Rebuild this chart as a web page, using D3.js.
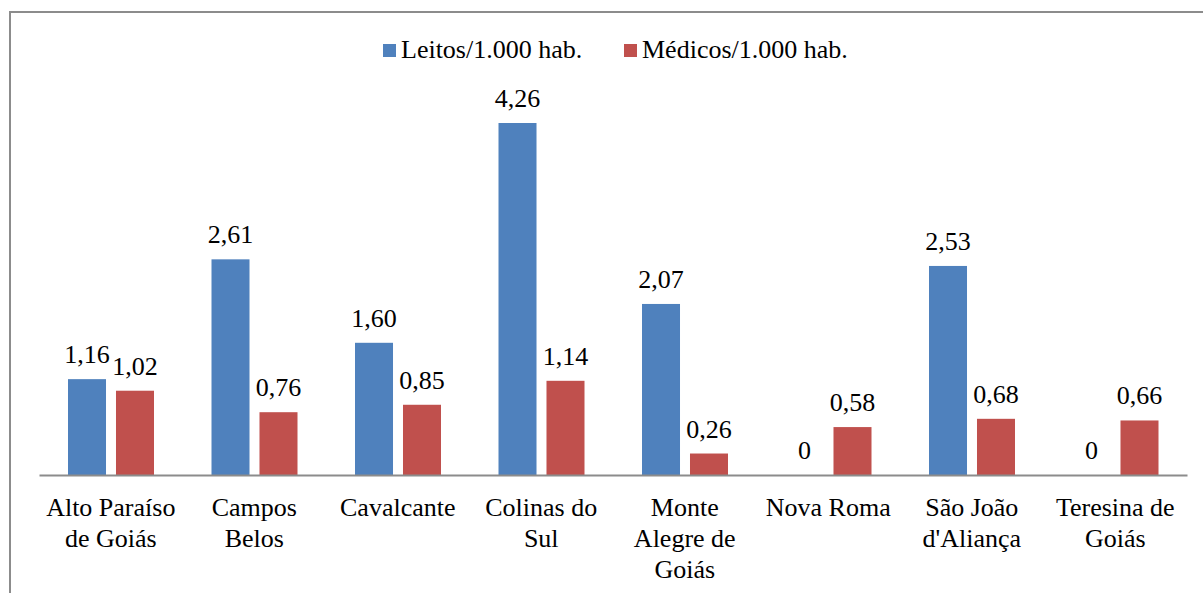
<!DOCTYPE html>
<html>
<head>
<meta charset="utf-8">
<script src="https://cdn.jsdelivr.net/npm/d3@7"></script>
<style>
  body { margin: 0; background: #fff; }
</style>
</head>
<body>
<div id="chart"></div>
<script>
const categories = ["Alto Paraíso\nde Goiás", "Campos\nBelos", "Cavalcante", "Colinas do\nSul",
  "Monte\nAlegre de\nGoiás", "Nova Roma", "São João\nd'Aliança", "Teresina de\nGoiás"];
const leitos = [1.16, 2.61, 1.60, 4.26, 2.07, 0, 2.53, 0];
const medicos = [1.02, 0.76, 0.85, 1.14, 0.26, 0.58, 0.68, 0.66];
const seriesNames = ["Leitos/1.000 hab.", "Médicos/1.000 hab."];
const colors = ["#4F81BD", "#C0504D"];

const width = 1203, height = 593;
const margin = { top: 123, right: 16, bottom: 118, left: 39 };
const baseY = height - margin.bottom;
const serif = '"Liberation Serif"';
const fontSize = "26px";

const svg = d3.select("#chart").append("svg")
  .attr("width", width).attr("height", height)
  .style("font-family", serif);

// outer frame (right/bottom edges fall outside the picture)
svg.append("rect")
  .attr("x", 10).attr("y", 12)
  .attr("width", width + 20).attr("height", height + 20)
  .attr("fill", "none").attr("stroke", "#8c8c8c").attr("stroke-width", 2);

let x = d3.scaleBand()
  .domain(categories)
  .range([margin.left, width - margin.right]);

let xs = d3.scaleBand()
  .domain([0, 1])
  .range([29, 115])
  .paddingInner(0.208);

let y = d3.scaleLinear()
  .domain([0, 4.26])
  .range([baseY, margin.top]);

const fmt = v => v === 0 ? "0" : d3.format(".2f")(v).replace(".", ",");

const data = categories.map((c, i) => ({ c, vals: [leitos[i], medicos[i]] }));

let groups = svg.append("g").selectAll("g")
  .data(data).join("g")
  .attr("transform", d => `translate(${x(d.c)},0)`);

groups.selectAll("rect")
  .data(d => d.vals.map((v, k) => ({ v, k })))
  .join("rect")
  .attr("x", d => xs(d.k))
  .attr("width", xs.bandwidth())
  .attr("y", d => y(d.v))
  .attr("height", d => baseY - y(d.v))
  .attr("fill", d => colors[d.k]);

groups.selectAll("text.val")
  .data(d => d.vals.map((v, k) => ({ v, k })))
  .join("text")
  .attr("class", "val")
  .attr("x", d => xs(d.k) + xs.bandwidth() / 2)
  .attr("y", d => y(d.v) - 16)
  .attr("text-anchor", "middle")
  .style("font-family", serif)
  .style("font-size", fontSize)
  .attr("fill", "#000")
  .text(d => fmt(d.v));

// x axis
let xAxis = svg.append("g")
  .attr("transform", `translate(0,${baseY})`)
  .call(d3.axisBottom(x).tickSize(0).tickFormat(""));
xAxis.select(".domain").attr("stroke", "#8c8c8c").attr("stroke-width", 2);

xAxis.selectAll(".tick").each(function (d) {
  let t = d3.select(this).append("text")
    .attr("text-anchor", "middle")
    .attr("y", 41)
    .attr("fill", "#000")
    .style("font-family", serif)
    .style("font-size", fontSize);
  d.split("\n").forEach((line, i) => {
    t.append("tspan").attr("x", 0).attr("dy", i === 0 ? 0 : 31).text(line);
  });
});

// legend
const legendX = [383, 624];
seriesNames.forEach((name, i) => {
  let g = svg.append("g").attr("transform", `translate(${legendX[i]},44)`);
  g.append("rect").attr("width", 13).attr("height", 13).attr("fill", colors[i]);
  g.append("text").attr("x", 18).attr("y", 14)
    .style("font-family", serif).style("font-size", fontSize).attr("fill", "#000")
    .text(name);
});
</script>
</body>
</html>
